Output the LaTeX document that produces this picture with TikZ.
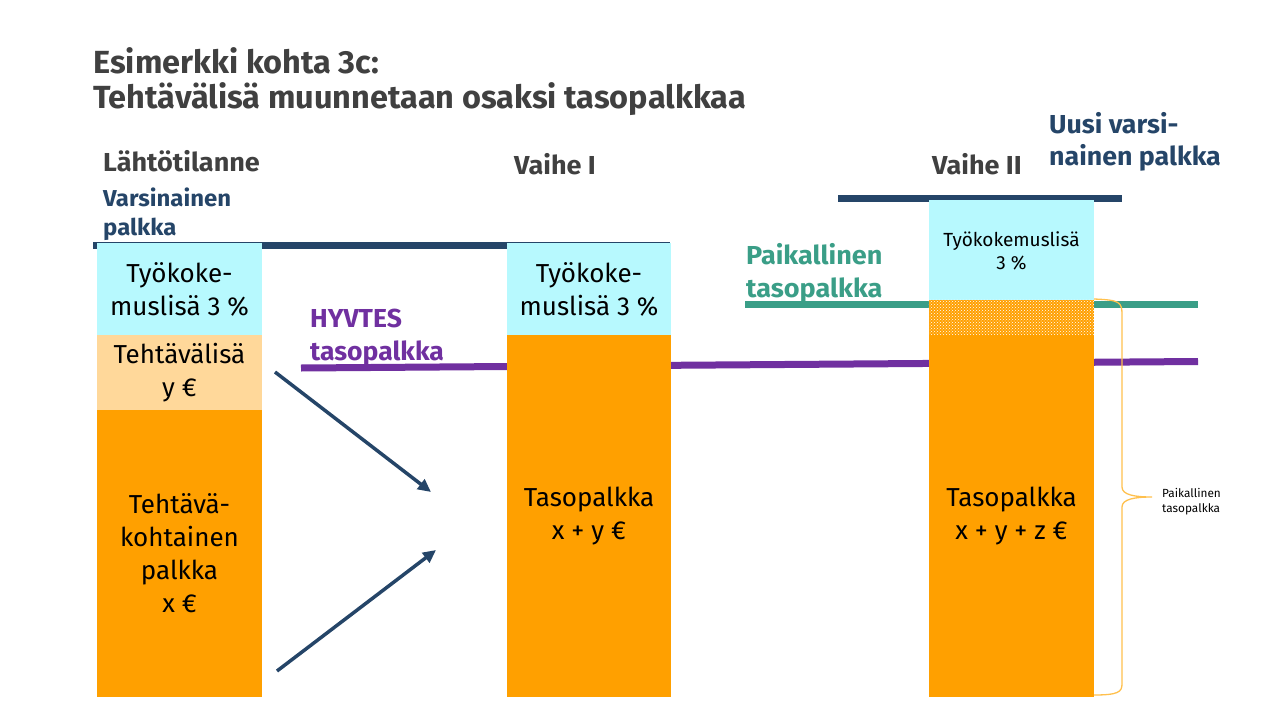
\documentclass[tikz,border=0pt]{standalone}
\usepackage{fontspec}
\setmainfont{Fira Sans}
\usetikzlibrary{patterns,arrows.meta}
\definecolor{cyanbox}{HTML}{B7F9FE}
\definecolor{lightor}{HTML}{FFD89A}
\definecolor{orbox}{HTML}{FFA000}
\definecolor{navy}{HTML}{254568}
\definecolor{tgreen}{HTML}{3A9E87}
\definecolor{tpurple}{HTML}{7030A0}
\definecolor{titlegray}{HTML}{404040}
\definecolor{brack}{HTML}{FFC04D}
\tikzset{
  box/.style={draw=none, inner sep=0pt, align=center, font=\fontsize{26}{33}\selectfont},
  refline/.style={line width=7pt},
  hdr/.style={inner sep=0pt, anchor=base west, font=\fontsize{26}{30}\selectfont\bfseries, text=titlegray},
  ttl/.style={inner sep=0pt, anchor=base west, font=\fontsize{32}{36}\selectfont\bfseries, text=titlegray},
  lbl/.style={inner sep=0pt, anchor=north west, align=left, font=\fontsize{24}{30}\selectfont\bfseries},
  movearrow/.style={draw=navy, line width=3.5pt, -{Triangle[length=13pt,width=12pt]}}
}
\begin{document}
\begin{tikzpicture}[x=1pt,y=-1pt]
\useasboundingbox (0,0) rectangle (1280,720);
% title
\node[ttl] (t1) at (93,73) {\scalebox{1.015}[1]{Esimerkki kohta 3c:}};
\node[ttl] (t2) at (93,108) {\scalebox{1.015}[1]{Tehtävälisä muunnetaan osaksi tasopalkkaa}};
% headers
\node[hdr] (h1) at (103,171) {\scalebox{1.04}[1]{Lähtötilanne}};
\node[hdr] (h2) at (514,174) {\scalebox{1.04}[1]{Vaihe I}};
\node[hdr] (h3) at (932,174) {\scalebox{1.04}[1]{Vaihe II}};
% labels
\node[lbl, text=navy, font=\fontsize{23}{29}\selectfont\bfseries] (lv) at (103,188) {\scalebox{1.04}[1]{Varsinainen}\\\scalebox{1.04}[1]{palkka}};
\node[lbl, text=navy, font=\fontsize{26}{32}\selectfont\bfseries] (lu) at (1049,112) {\scalebox{1.03}[1]{Uusi varsi-}\\\scalebox{1.03}[1]{nainen palkka}};
\node[lbl, text=tgreen, font=\fontsize{26}{33}\selectfont\bfseries] (lp) at (746,243) {\scalebox{1.04}[1]{Paikallinen}\\\scalebox{1.04}[1]{tasopalkka}};
\node[lbl, text=tpurple, font=\fontsize{26}{33}\selectfont\bfseries] (lh) at (310,309) {\scalebox{1.02}[1]{HYVTES}\\\scalebox{1.02}[1]{tasopalkka}};
% reference lines
\coordinate (nv1) at (93,245.5);
\coordinate (nv2) at (670,245.5);
\coordinate (nu1) at (838,198.5);
\coordinate (nu2) at (1122,198.5);
\coordinate (gp1) at (745,304.5);
\coordinate (gp2) at (1198,304.5);
\coordinate (pp1) at (301,368);
\coordinate (pp2) at (1198,361.5);
\draw[refline, navy] (nv1) -- (nv2);
\draw[refline, navy] (nu1) -- (nu2);
\draw[refline, tgreen] (gp1) -- (gp2);
\draw[refline, tpurple] (pp1) -- (pp2);
% column 1
\node[box, fill=cyanbox, minimum width=165pt, minimum height=92pt] (c1a) at (179.5,289) {Työkoke-\\muslisä 3 \%};
\node[box, fill=lightor, minimum width=165pt, minimum height=75pt] (c1b) at (179.5,372.5) {Tehtävälisä\\y €};
\node[box, fill=orbox, minimum width=165pt, minimum height=287pt] (c1c) at (179.5,553.5) {Tehtävä-\\kohtainen\\palkka\\x €};
% column 2
\node[box, fill=cyanbox, minimum width=164pt, minimum height=92pt] (c2a) at (589,289) {Työkoke-\\muslisä 3 \%};
\node[box, fill=orbox, minimum width=164pt, minimum height=362pt] (c2b) at (589,516) {Tasopalkka\\x + y €};
% column 3
\node[box, fill=cyanbox, minimum width=165pt, minimum height=101pt, font=\fontsize{19}{23}\selectfont] (c3a) at (1011.5,250.5) {Työkokemuslisä\\3 \%};
\node[box, fill=orbox, minimum width=165pt, minimum height=35pt] (c3h) at (1011.5,317.5) {};
\fill[pattern=crosshatch dots, pattern color=white] (c3h.north west) rectangle (c3h.south east);
\node[box, fill=orbox, minimum width=165pt, minimum height=362pt] (c3b) at (1011.5,516) {Tasopalkka\\x + y + z €};
% arrows
\coordinate (a1s) at (275,372);
\coordinate (a1e) at (431,492);
\coordinate (a2s) at (277,671);
\coordinate (a2e) at (436,550);
\draw[movearrow] (a1s) -- (a1e);
\draw[movearrow] (a2s) -- (a2e);
% bracket
\coordinate (bt) at (1094,299);
\coordinate (bb) at (1094,695);
\coordinate (btip) at (1152,497);
\draw[brack, line width=1.3pt] (bt) .. controls (1120,300) and (1122,302) .. (1122,315)
  -- (1122,487) .. controls (1122,495) and (1135,497) .. (btip)
  .. controls (1135,497) and (1122,499) .. (1122,507)
  -- (1122,684) .. controls (1122,692) and (1118,695) .. (bb);
\node[inner sep=0pt, anchor=north west, align=left, font=\fontsize{11.8}{15}\selectfont] (bl) at (1162,488) {Paikallinen\\tasopalkka};
\end{tikzpicture}
\end{document}
